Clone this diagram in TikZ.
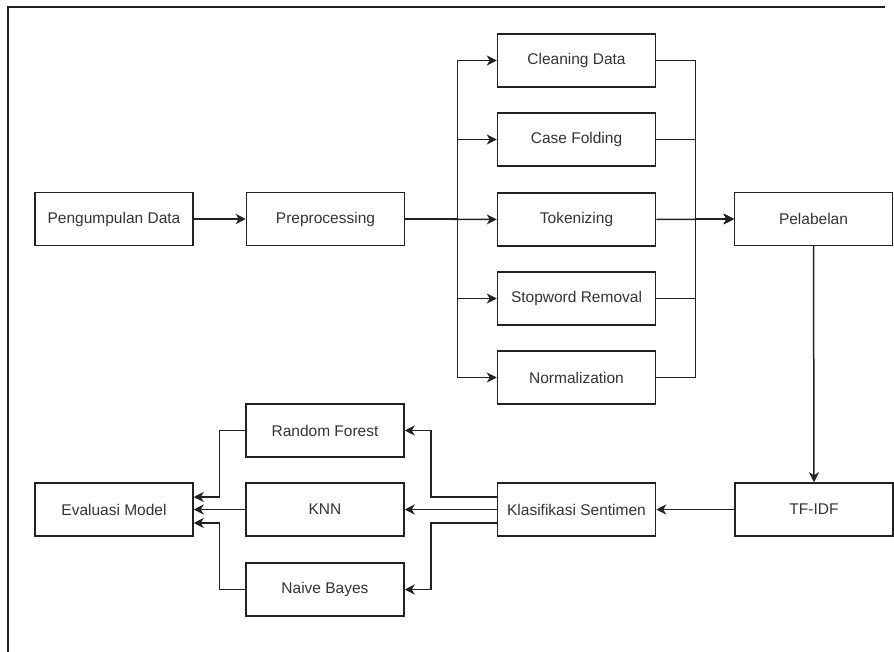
\documentclass[tikz,border=0pt]{standalone}
\usepackage{fontspec}
\setmainfont{Liberation Sans}
\usetikzlibrary{arrows.meta}
\definecolor{ink}{HTML}{222222}
\definecolor{txt}{HTML}{333333}
\tikzset{
  stepbox/.style={draw=ink, line width=1.5pt, minimum width=158pt, minimum height=53pt,
    inner sep=0pt, text=txt, font=\fontsize{15.5}{18}\selectfont},
  link/.style={draw=ink, line width=1.5pt},
  arr/.style={link, -{Stealth[length=10pt,width=10pt,inset=3pt]}},
}
\begin{document}
\begin{tikzpicture}[x=1pt,y=-1pt]
\useasboundingbox (0,0) rectangle (894,652);
% outer frame (top and left edges)
\draw[line width=2.5pt, ink] (885,7) -- (8,7) -- (8,652);

% nodes
\node[stepbox] (peng)  at (114,219)   {Pengumpulan Data};
\node[stepbox] (prep)  at (325.5,219) {Preprocessing};
\node[stepbox] (clean) at (576.5,60.5)  {Cleaning Data};
\node[stepbox] (case)  at (576.5,139.5) {Case Folding};
\node[stepbox] (tok)   at (576.5,219.5) {Tokenizing};
\node[stepbox] (stop)  at (576.5,298.5) {Stopword Removal};
\node[stepbox] (norm)  at (576.5,377.5) {Normalization};
\node[stepbox] (pel)   at (813.5,219)   {Pelabelan};
\node[stepbox] (tfidf) at (814,509.5)   {TF-IDF};
\node[stepbox] (klas)  at (576.5,509.5) {Klasifikasi Sentimen};
\node[stepbox] (rf)    at (325,430.5)   {Random Forest};
\node[stepbox] (knn)   at (325,509.5)   {KNN};
\node[stepbox] (nb)    at (325,589.5)   {Naive Bayes};
\node[stepbox] (eval)  at (114,509.5)   {Evaluasi Model};

% main flow
\draw[arr] (peng.east) -- (prep.west);
\draw[arr] (prep.east) -- (tok.west);
\foreach \n in {clean,case,stop,norm}
  \draw[arr] (prep.east) -- ++(52,0) |- (\n.west);
\draw[arr] (tok.east) -- (pel.west);
\foreach \n in {clean,case,stop,norm}
  \draw[arr] (\n.east) -- ++(39,0) |- (pel.west);
\draw[arr] (pel.south) -- (tfidf.north);
\draw[arr] (tfidf.west) -- (klas.east);

% classifiers
\draw[arr] ([yshift=12.5pt]klas.west) -- ++(-66,0) |- (rf.east);
\draw[arr] (klas.west) -- (knn.east);
\draw[arr] ([yshift=-13.5pt]klas.west) -- ++(-66,0) |- (nb.east);

% evaluation
\draw[arr] (rf.west) -- ++(-26,0) |- ([yshift=12.5pt]eval.east);
\draw[arr] (knn.west) -- (eval.east);
\draw[arr] (nb.west) -- ++(-26,0) |- ([yshift=-13.5pt]eval.east);
\end{tikzpicture}
\end{document}
